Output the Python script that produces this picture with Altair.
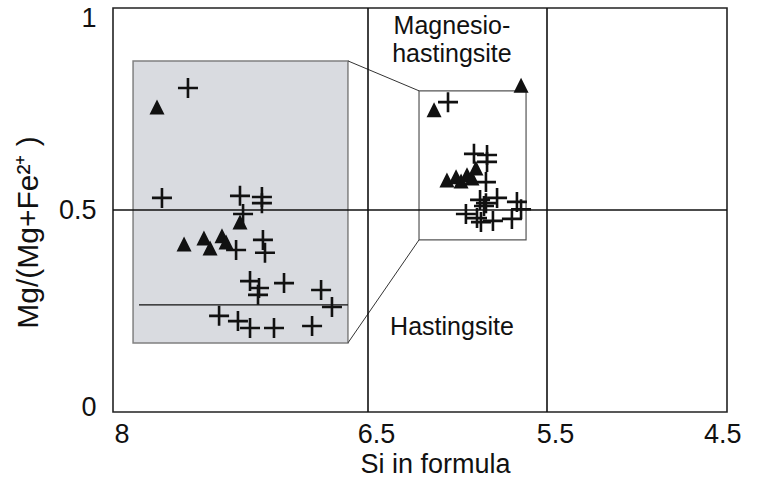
import altair as alt
import pandas as pd

# ---- axis ticks ----
x_ticks = [8, 6.5, 5.5, 4.5]
y_ticks = [0, 0.5, 1]

# ---- "+" symbols: enlarged inset (grey) then the small field box ----
plus_si = [7.559, 7.712, 7.253, 7.124, 7.124, 7.235, 7.276, 7.118, 7.106, 7.194,
           7.141, 7.147, 6.994, 6.776, 6.712, 7.376, 7.265, 7.194, 7.053, 6.829,
           6.053, 5.908, 5.835, 5.835, 5.841, 5.874, 5.841, 5.852, 5.779, 5.668,
           5.645, 5.953, 5.891, 5.869, 5.802, 5.696]
plus_mg = [0.802, 0.530, 0.535, 0.532, 0.517, 0.490, 0.401, 0.426, 0.394, 0.324,
           0.307, 0.290, 0.319, 0.302, 0.260, 0.238, 0.225, 0.208, 0.208, 0.213,
           0.767, 0.639, 0.636, 0.619, 0.569, 0.525, 0.517, 0.510, 0.530, 0.520,
           0.502, 0.490, 0.480, 0.470, 0.473, 0.478]

# ---- triangles ----
tri_si = [7.741, 7.582, 7.465, 7.429, 7.359, 7.335, 7.253,
          6.131, 5.645, 6.059, 6.008, 5.980, 5.947, 5.919, 5.897]
tri_mg = [0.755, 0.416, 0.431, 0.406, 0.436, 0.421, 0.470,
          0.748, 0.809, 0.574, 0.582, 0.572, 0.587, 0.579, 0.604]

# ---- boxes / guide lines (data units) ----
inset_si = [7.882, 6.618]
inset_mg = [0.171, 0.869]
inset_line_si = [7.847, 6.618]
inset_line_mg = [0.265]
field_si = [6.215, 5.617]
field_mg = [0.426, 0.795]
conn_si_from = [6.618, 6.618]
conn_mg_from = [0.869, 0.171]
conn_si_to = [6.215, 6.215]
conn_mg_to = [0.795, 0.426]
v_bounds = [6.5, 5.5]
h_bounds = [0.5]

# ---- labels ----
label_text = ["Magnesio-", "hastingsite", "Hastingsite"]
label_si = [6.031, 6.031, 6.031]
label_mg = [0.935, 0.866, 0.191]

FONT = "Liberation Sans"
INK = "#111111"

xscale = alt.Scale(domain=[8, 6.5, 5.5, 4.5], range=[0, 255, 434, 614], nice=False, zero=False)
yscale = alt.Scale(domain=[0, 1], nice=False, zero=False)

xaxis = alt.Axis(
    values=x_ticks, format="~g", title="Si in formula",
    labelFont=FONT, labelFontSize=27, labelColor=INK, labelPadding=9,
    labelFlush=True,
    labelOffset={"condition": [{"test": "datum.value == 4.5", "value": 14},
                               {"test": "datum.value == 8", "value": 1}],
                 "value": 8},
    titleFont=FONT, titleFontSize=27, titleFontWeight="normal", titleColor=INK,
    titleX=322, titleY=60, titleAlign="center", titleBaseline="alphabetic",
    grid=False, domain=False, ticks=False,
)
yaxis = alt.Axis(
    values=y_ticks, format="~g", title="Mg/(Mg+Fe²⁺ )",
    labelFont=FONT, labelFontSize=27, labelColor=INK, labelPadding=17,
    labelOffset={"condition": [{"test": "datum.value == 1", "value": 10},
                               {"test": "datum.value == 0", "value": -5}],
                 "value": 0},
    titleFont=FONT, titleFontSize=30, titleFontWeight="normal", titleColor=INK,
    titleX=-85, titleY=224, titleAngle=-90, titleAlign="center", titleBaseline="middle",
    grid=False, domain=False, ticks=False,
)

X = lambda f, **k: alt.X(f, type="quantitative", scale=xscale, **k)
Y = lambda f, **k: alt.Y(f, type="quantitative", scale=yscale, **k)

inset_df = pd.DataFrame({"x": [inset_si[0]], "x2": [inset_si[1]], "y": [inset_mg[0]], "y2": [inset_mg[1]]})
inset = alt.Chart(inset_df).mark_rect(fill="#d9dbe0", stroke="#808080", strokeWidth=1.5).encode(
    x=X("x", axis=xaxis), x2="x2", y=Y("y", axis=yaxis), y2="y2")

inline_df = pd.DataFrame({"x": [inset_line_si[0]], "x2": [inset_line_si[1]], "y": inset_line_mg})
inline = alt.Chart(inline_df).mark_rule(color=INK, strokeWidth=1.2).encode(
    x=X("x"), x2="x2", y=Y("y"))

field_df = pd.DataFrame({"x": [field_si[0]], "x2": [field_si[1]], "y": [field_mg[0]], "y2": [field_mg[1]]})
field = alt.Chart(field_df).mark_rect(fill=None, stroke="#555555", strokeWidth=1.2).encode(
    x=X("x"), x2="x2", y=Y("y"), y2="y2")

conn_df = pd.DataFrame({"x": conn_si_from, "y": conn_mg_from, "x2": conn_si_to, "y2": conn_mg_to})
conn = alt.Chart(conn_df).mark_rule(color="#333333", strokeWidth=1).encode(
    x=X("x"), y=Y("y"), x2="x2", y2="y2")

vrule = alt.Chart(pd.DataFrame({"x": v_bounds})).mark_rule(color=INK, strokeWidth=1.6).encode(x=X("x"))
hrule = alt.Chart(pd.DataFrame({"y": h_bounds})).mark_rule(color=INK, strokeWidth=1.6).encode(y=Y("y"))

plus = alt.Chart(pd.DataFrame({"x": plus_si, "y": plus_mg})).mark_point(
    shape="M-1,0L1,0M0,-1L0,1", size=400, filled=False, stroke=INK,
    strokeWidth=2.6, opacity=1).encode(x=X("x"), y=Y("y"))

tri = alt.Chart(pd.DataFrame({"x": tri_si, "y": tri_mg})).mark_point(
    shape="M0,-1L1,1L-1,1Z", size=225, filled=True, fill=INK, strokeWidth=0,
    opacity=1).encode(x=X("x"), y=Y("y"))

labels = alt.Chart(pd.DataFrame({"t": label_text, "x": label_si, "y": label_mg})).mark_text(
    font=FONT, fontSize=25, color=INK, align="center", baseline="alphabetic").encode(
    x=X("x"), y=Y("y"), text="t:N")

chart = alt.layer(inset, inline, field, conn, vrule, hrule, plus, tri, labels).properties(
    width=614, height=404,
    autosize=alt.AutoSizeParams(type="none"),
    padding={"left": 113, "top": 8, "right": 32, "bottom": 69},
    background="white",
).configure_view(stroke="#222222", strokeWidth=1.6)

chart.save("out.html", embed_options={"renderer": "svg", "actions": False})
